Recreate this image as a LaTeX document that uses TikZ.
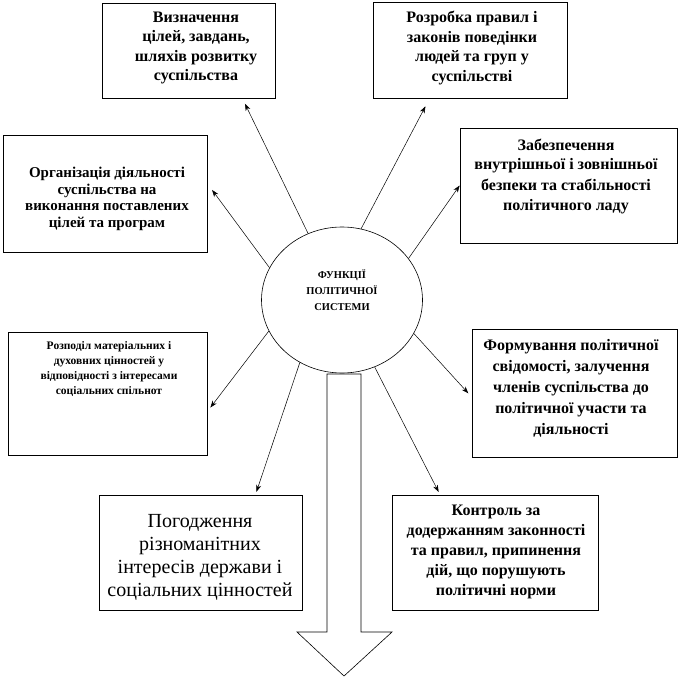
\documentclass[tikz,border=0pt]{standalone}
\usepackage{fontspec}
\setmainfont{Liberation Serif}
\usetikzlibrary{shapes.geometric,arrows.meta}

\begin{document}
\begin{tikzpicture}[
    x=1pt,
    y=-1pt,
    box/.style={draw, line width=0.7pt, inner sep=0pt},
    txt/.style={align=center, inner sep=0pt, font=\bfseries\fontsize{16}{19.5}\selectfont},
    conn/.style={-{Stealth[length=7pt,width=5pt]}, line width=0.5pt}
]
\useasboundingbox (0,0) rectangle (678,679);

% centre: the system itself
\node[draw, ellipse, line width=0.6pt, inner sep=0pt,
      minimum width=161pt, minimum height=146pt] (fn) at (342,300) {};
\node[txt, font=\bfseries\fontsize{10.5}{16}\selectfont] (fntext) at (342,290)
      {ФУНКЦІЇ\\ПОЛІТИЧНОЇ\\СИСТЕМИ};

% frames of the functions
\node[box, minimum width=173pt, minimum height=95pt]  (b1) at (188.5,50.5) {};
\node[box, minimum width=194pt, minimum height=96pt]  (b2) at (470,50) {};
\node[box, minimum width=204pt, minimum height=117pt] (b3) at (105,193.5) {};
\node[box, minimum width=217pt, minimum height=115pt] (b4) at (568.5,185.5) {};
\node[box, minimum width=199pt, minimum height=123pt] (b5) at (107.5,393.5) {};
\node[box, minimum width=205pt, minimum height=128pt] (b6) at (574.5,393) {};
\node[box, minimum width=203pt, minimum height=115pt] (b7) at (200.5,552.5) {};
\node[box, minimum width=206pt, minimum height=115pt] (b8) at (495,552.5) {};

% texts
\node[txt] (t1) at (196,48) {Визначення\\цілей, завдань,\\шляхів розвитку\\суспільства};
\node[txt] (t2) at (472,48) {Розробка правил і\\законів поведінки\\людей та груп у\\суспільстві};
\node[txt, font=\bfseries\fontsize{15}{16.5}\selectfont] (t3) at (107,199)
      {Організація діяльності\\суспільства на\\виконання поставлених\\цілей та програм};
\node[txt, font=\bfseries\fontsize{16}{20}\selectfont] (t4) at (566,176)
      {Забезпечення\\внутрішньої і зовнішньої\\безпеки та стабільності\\політичного ладу};
\node[txt, font=\bfseries\fontsize{11.5}{15}\selectfont] (t5) at (109,369)
      {Розподіл матеріальних і\\духовних цінностей у\\відповідності з інтересами\\соціальних спільнот};
\node[txt, font=\bfseries\fontsize{16}{21}\selectfont] (t6) at (571,388)
      {Формування політичної\\свідомості, залучення\\членів суспільства до\\політичної участи та\\діяльності};
\node[txt, font=\fontsize{20}{23}\selectfont] (t7) at (200,557)
      {Погодження\\різноманітних\\інтересів держави і\\соціальних цінностей};
\node[txt, font=\bfseries\fontsize{16}{20}\selectfont] (t8) at (496,552)
      {Контроль за\\додержанням законності\\та правил, припинення\\дій, що порушують\\політичні норми};

% rays from the centre
\draw[conn, shorten >=6pt] (fn.117) -- ([xshift=-33pt]b1.south east);
\draw[conn, shorten >=9pt] (fn.75)  -- ([xshift=57pt]b2.south west);
\draw[conn, shorten >=8pt] (fn.156) -- ([yshift=10pt]b3.east);
\draw[conn]                (fn.32)  -- (b4.west);
\draw[conn, shorten >=5pt] (fn.203) -- ([yshift=-18pt]b5.east);
\draw[conn, shorten >=5pt] (fn.335) -- ([yshift=-4pt]b6.west);
\draw[conn, shorten >=3pt] (fn.236) -- ([xshift=55pt]b7.north);
\draw[conn, shorten >=3pt] (fn.296) -- ([xshift=-55pt]b8.north);

% big arrow down
\draw[line width=0.6pt]
      (327,374) -- (327,632) -- (297,632) -- (344,676)
      -- (392,632) -- (361,632) -- (361,374) -- cycle;

\end{tikzpicture}
\end{document}
